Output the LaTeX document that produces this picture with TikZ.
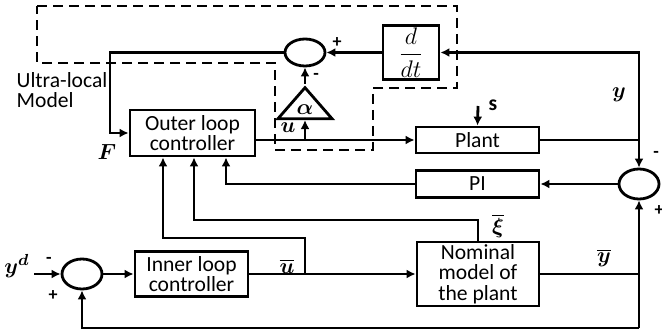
\documentclass[tikz,border=0pt]{standalone}
\usepackage{amsmath}
\usepackage{bm}
\usepackage{fontspec}
\setmainfont{Carlito}
\usetikzlibrary{shapes.geometric,arrows.meta}
\tikzstyle{block}=[
    draw,
    line width = 1.4pt,
    align = center,
    inner sep = 1pt
]
\tikzstyle{sum}=[
    draw,
    line width = 1.4pt,
    ellipse,
    minimum width = 20pt,
    minimum height = 15pt,
    inner sep = 0pt
]

\begin{document}
\begin{tikzpicture}[x=0.5pt, y=-0.5pt, line width=1.4pt, >={Latex[length=4.5pt, width=4.5pt]},
    font=\fontsize{10.8}{10.2}\selectfont,
    gain/.style = {draw, isosceles triangle, shape border rotate=90, isosceles triangle stretches,
        minimum width=27pt, minimum height=15.5pt, inner sep=0pt},
    sign/.style = {font=\bfseries\small}]
        \useasboundingbox (0,0) rectangle (662,336);

        % ultra-local model region
        \draw[line width=1.1pt, dash pattern=on 5pt off 3pt] (37,6) -- (457,6) -- (457,88) -- (373,88)
            -- (373,150) -- (275,150) -- (275,63) -- (37,63) -- cycle;

        \node[block, minimum width=62.5pt, minimum height=23pt] (outer) at (192.5,133) {Outer loop\\controller};
        \node[block, minimum width=28pt, minimum height=23pt, font=\large] (ddt) at (411,52.5) {$\dfrac{d}{dt}$};
        \node[block, minimum width=61.5pt, minimum height=13pt] (plant) at (477.5,140) {Plant};
        \node[block, minimum width=61.5pt, minimum height=13.5pt] (pi) at (477.5,184) {PI};
        \node[block, minimum width=56.5pt, minimum height=22.5pt] (inner) at (191.5,274) {Inner loop\\controller};
        \node[block, minimum width=61pt, minimum height=32pt] (nominal) at (478,274) {Nominal\\model of\\the plant};
        \node[sum, minimum height=13.5pt] (sumT) at (305,52.5) {};
        \node[sum] (sumR) at (639,184) {};
        \node[sum] (sumL) at (82,274) {};
        \node[gain, anchor=apex] (gain) at (305,84) {$\boldsymbol{\alpha}$};

        \coordinate (ytap) at (639,140);
        \coordinate (fturn) at (110,52.5);
        \coordinate (utap) at (305,140);
        \coordinate (sin) at (478,106);
        \coordinate (piturn) at (226,184);
        \coordinate (xiturn) at (194,220);
        \coordinate (ubtap) at (305,274);
        \coordinate (ubturn) at (163,238);
        \coordinate (ydin) at (34,274);
        \coordinate (fbcorner) at (639,328);

        % outer loop
        \draw (plant.east) -- (ytap);
        \draw[->] (ytap) |- (ddt.east);
        \draw[->] (ytap) -- (sumR.north);
        \draw[->] (ddt.west) -- (sumT.east);
        \draw[->] (sumT.west) -- (fturn) |- (outer.west);
        \draw[->] (outer.east |- plant.west) -- (plant.west);
        \draw[->] (utap) -- (gain.lower side);
        \draw[->] (gain.apex) -- (sumT.south);
        \draw[->] (sin) -- (plant.north);
        \draw[->] (sumR.west) -- (pi.east);
        \draw[->] (pi.west) -- (piturn) -- (piturn |- outer.south);
        \draw[->] (nominal.north) |- (xiturn) -- (xiturn |- outer.south);
        \draw[->] (ubtap) |- (ubturn) -- (ubturn |- outer.south);

        % inner loop
        \draw[->] (ydin) -- (sumL.west);
        \draw[->] (sumL.east) -- (inner.west);
        \draw[->] (inner.east) -- (nominal.west);
        \draw (nominal.east) -- (nominal.east -| fbcorner);
        \draw[->] (fbcorner) -- (sumR.south);
        \draw[->] (fbcorner) -| (sumL.south);

        \node[align=left] (ultra) at (62,90) {Ultra-local\\Model};
        \node (lblF) at (107,152) {$\boldsymbol{F}$};
        \node (lblu) at (288,128) {$\boldsymbol{u}$};
        \node (lbly) at (619,95) {$\boldsymbol{y}$};
        \node (lbls) at (493,105) {\textbf{s}};
        \node (lblxi) at (498,226) {$\overline{\boldsymbol{\xi}}$};
        \node (lblub) at (287,266) {$\overline{\boldsymbol{u}}$};
        \node (lblyb) at (604,258) {$\overline{\boldsymbol{y}}$};
        \node (lblyd) at (17,266) {$\boldsymbol{y^d}$};
        \node[sign] (pT) at (337,43) {+};
        \node[sign] (mT) at (316,76) {-};
        \node[sign] (mR) at (656,154) {-};
        \node[sign] (pR) at (659,211) {+};
        \node[sign] (mL) at (49,260) {-};
        \node[sign] (pL) at (53,296) {+};

    \end{tikzpicture}
\end{document}
